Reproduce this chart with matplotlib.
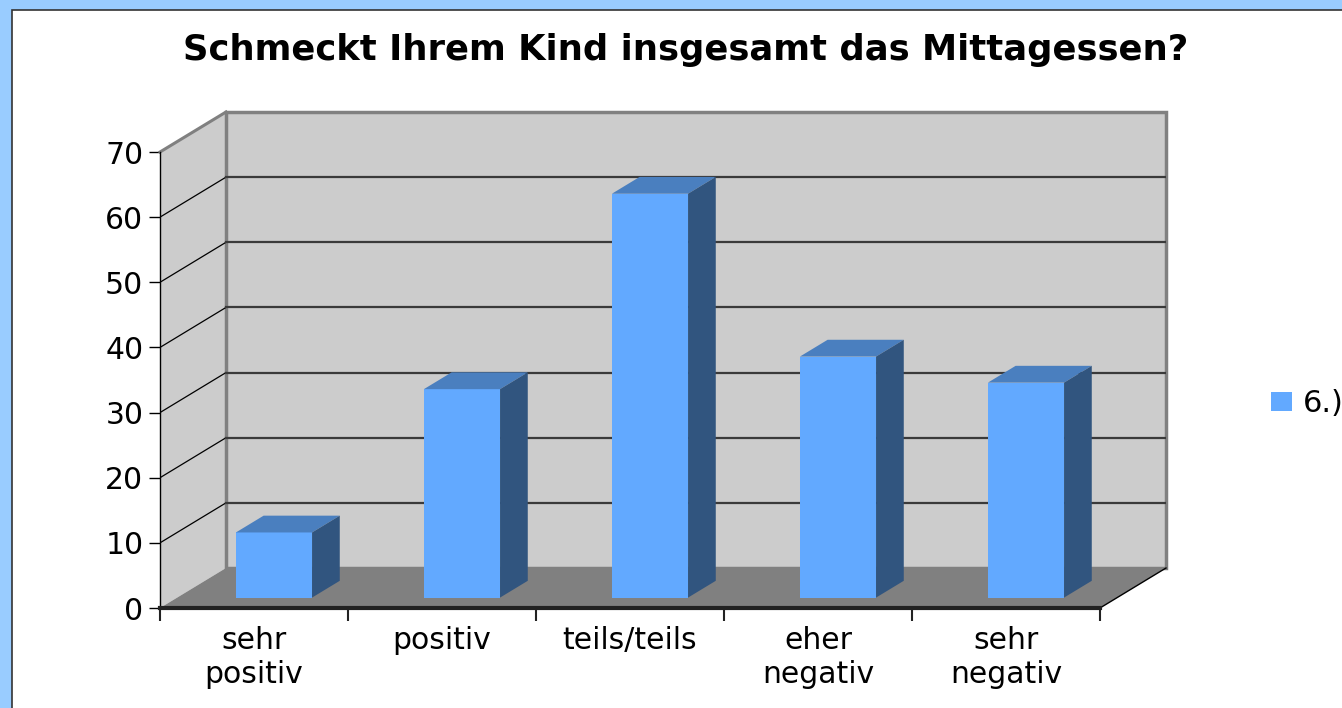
import numpy as np
import matplotlib
matplotlib.use("Agg")
import matplotlib.pyplot as plt
from matplotlib.patches import Polygon, Rectangle, Patch

# data
categories = ["sehr\npositiv", "positiv", "teils/teils", "eher\nnegativ", "sehr\nnegativ"]
values = [10, 32, 62, 37, 33]
series_name = "6.)"
y_ticks = [0, 10, 20, 30, 40, 50, 60, 70]

# colours
front_col = "#62a9ff"
top_col = "#4a7fbf"
side_col = "#31557f"
wall_col = "#cccccc"
floor_col = "#808080"
edge_col = "#808080"

W, H = 1342, 708
fig = plt.figure(figsize=(W / 100, H / 100), dpi=100)
fig.patch.set_facecolor("#99ccff")

# white inner panel with dark border (cut off at right and bottom)
fig.patches.append(Rectangle((12 / W, -1), 2, 1 + 1 - 9.5 / H, transform=fig.transFigure,
                             facecolor="white", edgecolor="#333333", lw=1.2, zorder=-5))

# axes = front plane of the 3D box
ax = fig.add_axes([160 / W, 100 / H, 1006 / W, 496 / H])
ax.set_facecolor("none")
ax.set_zorder(2)

n = len(categories)
ymax = 70
dx = 66 / 188       # depth offset in category units
dy = 40 / 6.514     # depth offset in value units
ax.set_xlim(0, n + dx)
ax.set_ylim(0, ymax + dy)

# side wall
ax.add_patch(Polygon([(0, 0), (dx, dy), (dx, ymax + dy), (0, ymax)], closed=True,
                     facecolor=wall_col, edgecolor="none", zorder=0))
ax.plot([0, dx], [ymax, ymax + dy], color=edge_col, lw=2.2, zorder=2, clip_on=False)
# back wall
ax.add_patch(Rectangle((dx, dy), n, ymax, facecolor=wall_col, edgecolor=edge_col,
                       lw=2.5, zorder=0.5, clip_on=False))
# grid lines
for v in y_ticks[1:-1]:
    ax.plot([0, dx], [v, v + dy], color="black", lw=0.9, zorder=1)
    ax.plot([dx, n + dx], [v + dy, v + dy], color="#3a3a3a", lw=1.6, zorder=1)
# floor
ax.add_patch(Polygon([(0, 0), (n, 0), (n + dx, dy), (dx, dy)], closed=True,
                     facecolor=floor_col, edgecolor="none", zorder=1.5))
ax.plot([n, n + dx], [0, dy], color="black", lw=1, zorder=2, clip_on=False)

# bars
f0, f1 = 0.26, 0.68      # depth range of the bars
bw = 0.405
x = np.arange(n) + 0.515 + f0 * dx
base = f0 * dy
bdx = (f1 - f0) * dx
bdy = (f1 - f0) * dy
ax.bar(x, values, width=bw, bottom=base, color=front_col, zorder=3)
for xi, v in zip(x, values):
    xl, xr = xi - bw / 2, xi + bw / 2
    top = base + v
    ax.add_patch(Polygon([(xl, top), (xr, top), (xr + bdx, top + bdy), (xl + bdx, top + bdy)],
                         closed=True, facecolor=top_col, edgecolor="none", zorder=3))
    ax.add_patch(Polygon([(xr, base), (xr + bdx, base + bdy), (xr + bdx, top + bdy), (xr, top)],
                         closed=True, facecolor=side_col, edgecolor="none", zorder=3))

# axes lines and ticks
for s in ["top", "right"]:
    ax.spines[s].set_visible(False)
ax.spines["left"].set_bounds(0, ymax)
ax.spines["left"].set_color("black")
ax.spines["left"].set_linewidth(1)
ax.spines["left"].set_zorder(4)
ax.spines["bottom"].set_bounds(0, n)
ax.spines["bottom"].set_color("#222222")
ax.spines["bottom"].set_linewidth(3)
ax.spines["bottom"].set_zorder(4)

ax.set_yticks(y_ticks)
ax.tick_params(axis="y", direction="out", length=8, width=1, color="black",
               labelsize=21.5, pad=4)
ax.set_xticks(np.arange(n + 1))
ax.set_xticklabels([])
ax.set_xticks(np.arange(n) + 0.5, minor=True)
ax.set_xticklabels(categories, minor=True)
ax.tick_params(axis="x", which="major", direction="out", length=9, width=1.5, color="#222222")
ax.tick_params(axis="x", which="minor", length=0, labelsize=21.5, pad=13)

fig.text(686 / W, 1 - 50 / H, "Schmeckt Ihrem Kind insgesamt das Mittagessen?",
         ha="center", va="center", fontsize=25.5, fontweight="bold")

fig.legend(handles=[Patch(facecolor=front_col)], labels=[series_name], loc="center left",
           bbox_to_anchor=(1271 / W, 1 - 404 / H), frameon=False, fontsize=22,
           handlelength=0.7, handleheight=0.6, handletextpad=0.35, borderpad=0, borderaxespad=0)

fig.savefig("out.png", dpi=100, facecolor=fig.get_facecolor())
